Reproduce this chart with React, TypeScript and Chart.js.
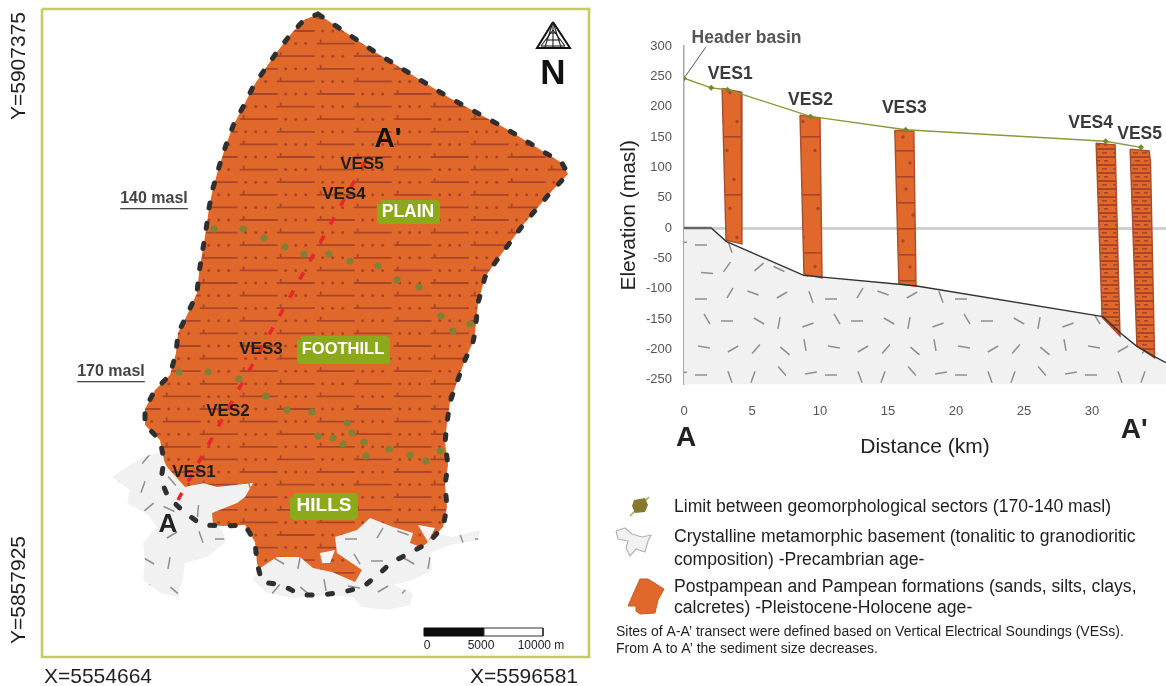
import React, { useEffect, useRef } from "react";
import { Chart, registerables } from "chart.js";

Chart.register(...registerables);

type P = [number, number];

// ---------- Left map (image units) ----------
const studyAreaOutline: P[] = [
  [318, 14], [375, 52], [448, 97], [505, 128], [562, 163], [568, 174], [550, 193], [523, 225], [497, 260],
  [485, 277], [478, 303], [475, 333], [473, 342], [465, 360], [457, 382], [450, 402], [447, 423], [445, 443],
  [448, 465], [445, 485], [447, 507], [443, 527], [428, 543], [410, 553], [392, 562], [380, 573], [363, 587],
  [343, 592], [322, 595], [301, 595], [282, 585], [262, 582], [257, 563], [255, 542], [245, 525], [223, 526],
  [202, 525], [184, 512], [168, 497], [161, 480], [164, 460], [160, 440], [145, 425], [145, 409], [155, 390],
  [170, 375], [176, 353], [178, 333], [188, 313], [197, 293], [199, 273], [206, 230], [209, 208], [213, 188],
  [219, 167], [226, 145], [233, 126], [243, 107], [253, 87], [265, 69], [277, 52], [290, 35], [304, 20], [318, 14],
];
const basementWest: P[] = [
  [160, 452], [167, 467], [185, 487], [203, 483], [217, 487], [253, 483], [245, 497], [237, 503], [212, 513],
  [213, 525], [223, 530], [225, 543], [207, 557], [185, 563], [183, 580], [177, 597], [160, 593], [143, 580],
  [145, 560], [143, 543], [157, 527], [148, 515], [127, 503], [130, 490], [112, 477], [127, 467], [143, 457],
];
const basementSouth: P[] = [
  [257, 570], [277, 557], [300, 557], [313, 568], [332, 572], [355, 582], [362, 570], [337, 553], [335, 537],
  [357, 530], [370, 518], [393, 527], [413, 533], [410, 543], [423, 548], [435, 533], [452, 537], [480, 530],
  [478, 540], [450, 545], [430, 553], [432, 570], [413, 580], [393, 585], [413, 593], [410, 605], [388, 610],
  [362, 607], [353, 597], [327, 595], [293, 598], [267, 593], [253, 580],
];
const basementIslets: P[][] = [
  [[320, 553], [335, 550], [330, 563], [322, 563]],
  [[418, 525], [435, 528], [428, 542]],
];
const sectorLimitPoints: P[] = [
  [214, 229], [243, 229], [264, 238], [285, 247], [304, 254], [329, 254], [350, 261], [378, 266], [397, 280],
  [419, 287], [441, 316], [453, 331], [470, 324], [179, 372], [208, 372], [239, 379], [266, 396], [287, 410],
  [312, 412], [347, 423], [318, 436], [333, 438], [352, 433], [343, 444], [364, 442], [366, 456], [389, 449],
  [410, 455], [426, 461], [440, 451],
];
const transect: P[] = [[178, 500], [240, 387], [365, 162]];
const frameLines: P[][] = [
  [[42, 9], [589, 9], [589, 657], [42, 657], [42, 9]],
];
const badges: { name: string; size: number; shape: P[]; label: P }[] = [
  { name: "PLAIN", size: 17.5, shape: [[381, 204], [436, 204], [436, 220], [381, 220]], label: [408, 212] },
  { name: "FOOTHILL", size: 16.5, shape: [[301, 340], [386, 340], [386, 360], [301, 360]], label: [343, 349] },
  { name: "HILLS", size: 19, shape: [[294, 497], [354, 497], [354, 516], [294, 516]], label: [324, 506] },
];
const scaleBarBlack: P[] = [[424, 628], [484, 628], [484, 636], [424, 636]];
const scaleBarWhite: P[] = [[484, 628], [543, 628], [543, 636], [484, 636]];
const northTriangle: P[] = [[553, 22], [570, 48], [537, 48]];
const northInner: P[][] = [
  [[553, 22], [545, 47]], [[553, 22], [561, 47]], [[553, 22], [553, 47]], [[546, 40], [560, 40]],
  [[549, 33], [557, 33]], [[541, 46], [565, 46]], [[553, 30], [541, 46]], [[553, 30], [565, 46]],
];
const legendLimitIcon: P[] = [[634, 500], [645, 498], [648, 505], [645, 512], [635, 513], [632, 506]];
const legendLimitTail: P[] = [[630, 516], [649, 497]];
const legendBasementIcon: P[] = [
  [616, 531], [625, 528], [632, 534], [642, 537], [651, 535], [648, 541], [645, 552], [636, 549], [630, 556],
  [626, 548], [628, 541], [618, 539],
];
const legendOrangeIcon: P[] = [
  [640, 579], [648, 579], [664, 589], [658, 600], [655, 613], [640, 614], [636, 611], [636, 606], [628, 606],
  [635, 590],
];

type Txt = { t: string; x: number; y: number; f: string; c?: string; a?: CanvasTextAlign; r?: number; u?: boolean };
const F = '"Liberation Sans"';
const mapTexts: Txt[] = [
  { t: "Y=5907375", x: 19, y: 66, f: `21px ${F}`, r: -90 },
  { t: "Y=5857925", x: 19, y: 590, f: `21px ${F}`, r: -90 },
  { t: "X=5554664", x: 98, y: 677, f: `21px ${F}` },
  { t: "X=5596581", x: 524, y: 677, f: `21px ${F}` },
  { t: "140 masl", x: 154, y: 199, f: `bold 16px ${F}`, c: "#444", u: true },
  { t: "170 masl", x: 111, y: 372, f: `bold 16px ${F}`, c: "#444", u: true },
  { t: "A'", x: 388, y: 139, f: `bold 28px ${F}`, c: "#111" },
  { t: "A", x: 168, y: 525, f: `bold 26px ${F}`, c: "#222" },
  { t: "VES5", x: 362, y: 164, f: `bold 17px ${F}`, c: "#1c1c1c" },
  { t: "VES4", x: 344, y: 194, f: `bold 17px ${F}`, c: "#1c1c1c" },
  { t: "VES3", x: 261, y: 349, f: `bold 17px ${F}`, c: "#1c1c1c" },
  { t: "VES2", x: 228, y: 411, f: `bold 17px ${F}`, c: "#1c1c1c" },
  { t: "VES1", x: 194, y: 472, f: `bold 17px ${F}`, c: "#1c1c1c" },
  { t: "N", x: 553, y: 74, f: `bold 35px ${F}`, c: "#111" },
  { t: "0", x: 427, y: 646, f: `12px ${F}`, c: "#222" },
  { t: "5000", x: 481, y: 646, f: `12px ${F}`, c: "#222" },
  { t: "10000 m", x: 541, y: 646, f: `12px ${F}`, c: "#222" },
  { t: "Limit between geomorphological sectors (170-140 masl)", x: 674, y: 507, f: `17.6px ${F}`, a: "left" },
  { t: "Crystalline metamorphic basement (tonalitic to granodioritic", x: 674, y: 537, f: `17.6px ${F}`, a: "left" },
  { t: "composition) -Precambrian age-", x: 674, y: 560, f: `17.6px ${F}`, a: "left" },
  { t: "Postpampean and Pampean formations (sands, silts, clays,", x: 674, y: 587, f: `17.6px ${F}`, a: "left" },
  { t: "calcretes) -Pleistocene-Holocene age-", x: 674, y: 608, f: `17.6px ${F}`, a: "left" },
  { t: "Sites of A-A\u2019 transect were defined based on Vertical Electrical Soundings (VESs).", x: 616, y: 632, f: `14px ${F}`, a: "left" },
  { t: "From A to A\u2019 the sediment size decreases.", x: 616, y: 649, f: `14px ${F}`, a: "left" },
];

// ---------- Right cross-section (km, masl) ----------
const elevationTicks = [300, 250, 200, 150, 100, 50, 0, -50, -100, -150, -200, -250];
const distanceTicks = [0, 5, 10, 15, 20, 25, 30];
const terrain: P[] = [[0, 247], [2, 231], [3.2, 228], [9.3, 184], [16.3, 162], [31, 143], [33.6, 133]];
const headerLeader: P[] = [[0.1, 250], [1.6, 298]];
const basementSill: P[] = [[0, 0], [2, 0]];
const basementTop: P[] = [[0, 0], [2, 0], [3.1, -22], [8.8, -78], [17, -95], [30.8, -146], [32.2, -175], [33.3, -195], [34.6, -212], [35.44, -222]];
const basementArea: P[] = [...basementTop, [35.44, -258], [0, -258]];
const ves1: P[] = [[2.8, 230], [4.2, 224], [4.26, -26], [3.09, -20]];
const ves2: P[] = [[8.53, 186], [10, 181], [10.15, -82], [8.82, -76]];
const ves3: P[] = [[15.5, 161], [16.9, 160], [17.06, -96], [15.8, -92]];
const ves4: P[] = [[30.3, 140], [31.7, 137], [32.06, -178], [30.74, -147]];
const ves5: P[] = [[32.8, 130], [34.2, 127], [34.3, 110], [34.6, -214], [33.3, -194]];
const sectionTexts: Txt[] = [
  { t: "Header basin", x: 4.6, y: 313, f: `bold 17.5px ${F}`, c: "#555" },
  { t: "VES1", x: 3.4, y: 254, f: `bold 17.5px ${F}`, c: "#3a3a3a" },
  { t: "VES2", x: 9.3, y: 211, f: `bold 17.5px ${F}`, c: "#3a3a3a" },
  { t: "VES3", x: 16.2, y: 198, f: `bold 17.5px ${F}`, c: "#3a3a3a" },
  { t: "VES4", x: 29.9, y: 172, f: `bold 17.5px ${F}`, c: "#3a3a3a" },
  { t: "VES5", x: 33.5, y: 155, f: `bold 17.5px ${F}`, c: "#3a3a3a" },
  { t: "A", x: 0.15, y: -346, f: `bold 28px ${F}`, c: "#222" },
  { t: "A'", x: 33.1, y: -334, f: `bold 28px ${F}`, c: "#222" },
];

const ORANGE = "#E0682A";
const DARK = "#A9462A";

function tile(w: number, h: number, draw: (c: CanvasRenderingContext2D) => void) {
  const cv = document.createElement("canvas");
  cv.width = w;
  cv.height = h;
  const c = cv.getContext("2d")!;
  draw(c);
  return c.createPattern(cv, "repeat")!;
}

function hatchPattern() {
  const w = 77, rowH = 12.6;
  return tile(w, Math.round(rowH * 10), (c) => {
    c.fillStyle = ORANGE;
    c.fillRect(0, 0, w, 126);
    c.strokeStyle = DARK;
    c.fillStyle = DARK;
    c.lineWidth = 1.8;
    for (let r = 0; r < 10; r++) {
      const y = 5.8 + r * rowH;
      const x0 = r % 2 === 0 ? 45.7 : 8.7;
      for (const o of [-w, 0]) {
        c.beginPath();
        c.moveTo(x0 + o, y);
        c.lineTo(x0 + o + 38, y);
        c.moveTo(x0 + o + 4, y);
        c.lineTo(x0 + o + 4, y - 4);
        c.stroke();
        for (const d of [46, 56, 66]) {
          c.beginPath();
          c.arc(x0 + o + d, y, 1.5, 0, 7);
          c.fill();
        }
      }
    }
  });
}

function basementPattern() {
  const angles = [20, 150, 70, 0, 120, 30, 100, 160, 60, 0, 130, 40, 80, 10, 150, 110, 50, 170, 0, 70, 140, 25, 95, 5, 125];
  return tile(130, 130, (c) => {
    c.fillStyle = "#F1F1F1";
    c.fillRect(0, 0, 130, 130);
    c.strokeStyle = "#8f8f8f";
    c.lineWidth = 1.5;
    angles.forEach((a, i) => {
      const cx = 13 + (i % 5) * 26 + (i % 3) * 3;
      const cy = 13 + Math.floor(i / 5) * 26 + (i % 4) * 2;
      const dx = Math.cos((a * Math.PI) / 180) * 6;
      const dy = Math.sin((a * Math.PI) / 180) * 6;
      c.beginPath();
      c.moveTo(cx - dx, cy - dy);
      c.lineTo(cx + dx, cy + dy);
      c.stroke();
    });
  });
}

function columnPattern(spacing: number, lineEvery: number) {
  const rows = 4;
  return tile(22, spacing * rows, (c) => {
    c.fillStyle = ORANGE;
    c.fillRect(0, 0, 22, spacing * rows);
    c.fillStyle = DARK;
    for (let i = 0; i < rows; i++) {
      if (i % lineEvery === 0) c.fillRect(0, i * spacing, 22, 1.6);
      c.beginPath();
      c.arc(7 + ((i * 7) % 11), i * spacing + spacing / 2, 1.7, 0, 7);
      c.fill();
    }
  });
}

function densePattern() {
  return tile(20, 16, (c) => {
    c.fillStyle = ORANGE;
    c.fillRect(0, 0, 20, 16);
    c.fillStyle = DARK;
    c.fillRect(0, 0, 20, 2);
    c.fillRect(0, 8, 20, 2);
    c.fillRect(3, 4, 5, 1.6);
    c.fillRect(12, 4, 5, 1.6);
    c.fillRect(5, 12, 5, 1.6);
    c.fillRect(14, 12, 4, 1.6);
  });
}

const pts = (a: P[]) => a.map(([x, y]) => ({ x, y }));

function poly(a: P[], o: any = {}) {
  const closed = [...a, a[0]];
  return {
    data: pts(closed), showLine: true, fill: "shape", pointRadius: 0, tension: 0,
    borderWidth: 0, borderColor: "transparent", ...o,
  };
}
function line(a: P[], color: string, width: number, o: any = {}) {
  return {
    data: pts(a), showLine: true, fill: false, pointRadius: 0, tension: 0,
    borderWidth: width, borderColor: color, ...o,
  };
}
const layered = (ds: any[]) => ds.map((d, i) => ({ ...d, order: -i }));

const textPlugin = (list: Txt[], xId: string, yId: string) => ({
  id: "texts",
  afterDatasetsDraw(chart: any) {
    const c: CanvasRenderingContext2D = chart.ctx;
    const sx = chart.scales[xId], sy = chart.scales[yId];
    for (const tx of list) {
      const x = sx.getPixelForValue(tx.x), y = sy.getPixelForValue(tx.y);
      c.save();
      c.font = tx.f;
      c.fillStyle = tx.c || "#1f1f1f";
      c.textAlign = tx.a || "center";
      c.textBaseline = "middle";
      c.translate(x, y);
      if (tx.r) c.rotate((tx.r * Math.PI) / 180);
      c.fillText(tx.t, 0, 0);
      if (tx.u) {
        const w = c.measureText(tx.t).width;
        c.fillRect(-w / 2, 9, w, 1.3);
      }
      c.restore();
    }
  },
});

export default function App() {
  const mapRef = useRef<HTMLCanvasElement>(null);
  const secRef = useRef<HTMLCanvasElement>(null);

  useEffect(() => {
    const hatch = hatchPattern();
    const base = basementPattern();
    const allTexts = [
      ...mapTexts,
      ...badges.map((b) => ({ t: b.name, x: b.label[0], y: b.label[1], f: `bold ${b.size}px ${F}`, c: "#fff" })),
    ];
    const mapDatasets = layered([
      ...frameLines.map((f) => line(f, "#C3CB62", 2.6)),
      poly(studyAreaOutline, { backgroundColor: hatch }),
      poly(basementWest, { backgroundColor: base }),
      poly(basementSouth, { backgroundColor: base }),
      ...basementIslets.map((b) => poly(b, { backgroundColor: "#F4F4F4" })),
      line(studyAreaOutline, "#2f2f2f", 5, { borderDash: [5, 15.5], borderCapStyle: "round" }),
      {
        data: pts(sectorLimitPoints), showLine: false, pointRadius: 3.6, pointStyle: "circle",
        pointBackgroundColor: "#7F8136", pointBorderWidth: 0,
      },
      line(transect, "#E9262E", 3.6, { borderDash: [8, 13] }),
      ...badges.map((b) =>
        poly(b.shape, { backgroundColor: "#8CA81B", borderColor: "#8CA81B", borderWidth: 8, borderJoinStyle: "round" })
      ),
      poly(scaleBarBlack, { backgroundColor: "#0c0c0c", borderColor: "#0c0c0c", borderWidth: 1 }),
      poly(scaleBarWhite, { backgroundColor: "#ffffff", borderColor: "#333", borderWidth: 1 }),
      poly(northTriangle, { backgroundColor: "#ffffff", borderColor: "#111", borderWidth: 2 }),
      ...northInner.map((l) => line(l, "#222", 1.1)),
      line(legendLimitTail, "#A39A4A", 1.2),
      poly(legendLimitIcon, { backgroundColor: "#85782F" }),
      poly(legendBasementIcon, { backgroundColor: "#F1F1F1", borderColor: "#b5b5b5", borderWidth: 1.2 }),
      poly(legendOrangeIcon, { backgroundColor: ORANGE, borderColor: "#C65A2A", borderWidth: 1 }),
    ]);
    const mapChart = new Chart(mapRef.current!, {
      type: "scatter",
      data: { datasets: mapDatasets as any },
      options: {
        animation: false, responsive: false, events: [], devicePixelRatio: 1,
        layout: { padding: 0, autoPadding: false },
        plugins: { legend: { display: false }, tooltip: { enabled: false } },
        scales: {
          x: { type: "linear", display: false, min: 0, max: 1166 },
          y: { type: "linear", display: false, min: 0, max: 686, reverse: true },
        },
      },
      plugins: [textPlugin(allTexts, "x", "y")],
    } as any);

    const sparse = columnPattern(29, 2);
    const medium = columnPattern(26, 1);
    const dense = densePattern();
    const colBorder = { borderColor: "#A84E2C", borderWidth: 1.4 };
    const secDatasets = layered([
      poly(basementArea, { backgroundColor: base }),
      poly(ves1, { backgroundColor: sparse, ...colBorder }),
      poly(ves2, { backgroundColor: sparse, ...colBorder }),
      poly(ves3, { backgroundColor: medium, ...colBorder }),
      poly(ves4, { backgroundColor: dense, ...colBorder }),
      poly(ves5, { backgroundColor: dense, ...colBorder }),
      line(basementTop, "#333", 1.4),
      line(basementSill, "#666", 2.6),
      line(headerLeader, "#555", 1),
      line(terrain, "#8A9A3A", 1.4, {
        pointRadius: 3, pointStyle: "rectRot", pointBackgroundColor: "#6E8A2A", pointBorderWidth: 0,
      }),
    ]);
    const tickFont = { family: "Liberation Sans", size: 13 };
    const secChart = new Chart(secRef.current!, {
      type: "scatter",
      data: { datasets: secDatasets as any },
      options: {
        animation: false, responsive: false, events: [], devicePixelRatio: 1,
        layout: { padding: { top: 26, right: 0, left: 0, bottom: 0 }, autoPadding: false },
        plugins: { legend: { display: false }, tooltip: { enabled: false } },
        scales: {
          x: {
            type: "linear", min: 0, max: 35.44,
            afterBuildTicks: (s: any) => { s.ticks = distanceTicks.map((value) => ({ value })); },
            afterFit: (s: any) => { s.height = 85.4; },
            grid: { display: false, drawTicks: false },
            border: { display: false },
            ticks: { padding: 19, font: tickFont, color: "#555", maxRotation: 0, autoSkip: false },
            title: { display: true, text: "Distance (km)", color: "#222", font: { family: "Liberation Sans", size: 21 }, padding: { top: 0, bottom: 10 } },
          },
          y: {
            type: "linear", min: -258, max: 300,
            afterBuildTicks: (s: any) => { s.ticks = elevationTicks.map((value) => ({ value })); },
            afterFit: (s: any) => { s.width = 74; },
            grid: {
              drawTicks: false,
              color: (c: any) => (c.tick && c.tick.value === 0 ? "#CFCFCF" : "transparent"),
              lineWidth: (c: any) => (c.tick && c.tick.value === 0 ? 3 : 0),
            },
            border: { display: true, color: "#A8A8A8", width: 1.5 },
            ticks: { padding: 12, font: tickFont, color: "#555", autoSkip: false },
            title: { display: true, text: "Elevation (masl)", color: "#222", font: { family: "Liberation Sans", size: 21 }, padding: { top: 7, bottom: 0 } },
          },
        },
      },
      plugins: [textPlugin(sectionTexts, "x", "y")],
    } as any);

    return () => {
      mapChart.destroy();
      secChart.destroy();
    };
  }, []);

  return (
    <div style={{ position: "absolute", left: 0, top: 0, width: 1166, height: 686, background: "#fff", overflow: "hidden" }}>
      <canvas ref={mapRef} width={1166} height={686} style={{ position: "absolute", left: 0, top: 0, display: "block" }} />
      <canvas ref={secRef} width={556} height={450} style={{ position: "absolute", left: 610, top: 20, display: "block" }} />
    </div>
  );
}
